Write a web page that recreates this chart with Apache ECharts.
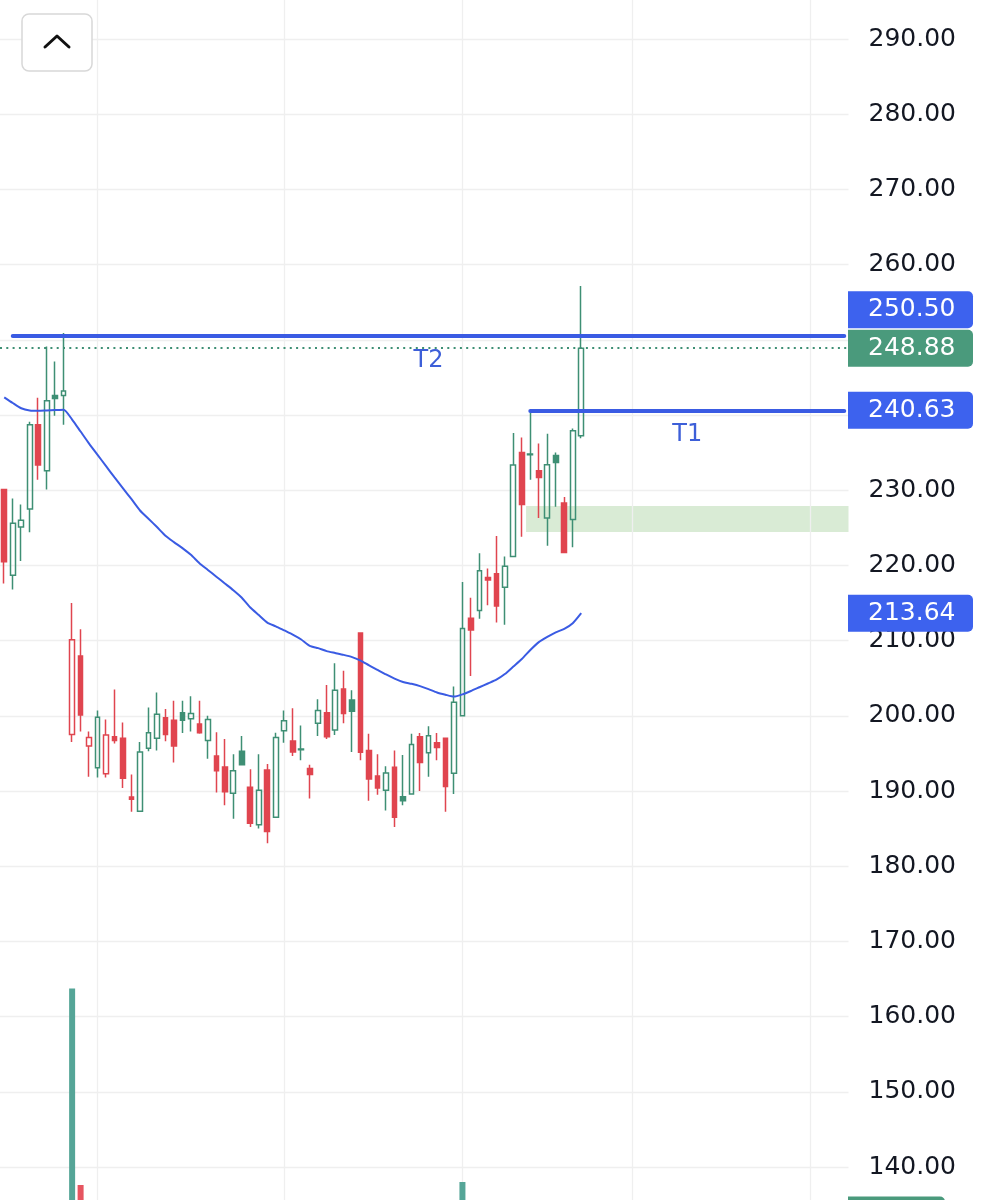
<!DOCTYPE html>
<html>
<head>
<meta charset="utf-8">
<script src="https://cdn.jsdelivr.net/npm/echarts@6/dist/echarts.min.js"></script>
<style>
html,body{margin:0;padding:0;background:#ffffff;}
#chart{width:983px;height:1200px;}
</style>
</head>
<body>
<div id="chart"></div>
<script>
// ---------------- data ----------------
const openP = [230.1,218.7,225.1,227.5,238.7,232.6,242.6,242.6,197.5,207.95,
  196.0,193.1,192.3,197.2,197.0,189.2,187.3,195.7,197.0,199.75,
  199.4,200.4,199.6,198.9,196.7,194.65,193.2,189.7,195.3,190.5,
  185.5,192.8,186.5,198.0,196.65,195.5,193.0,199.0,200.4,198.1,
  203.55,202.1,211.0,195.4,192.0,190.1,193.15,189.25,189.6,197.2,
  195.1,196.4,197.0,192.35,200.0,212.97,214.0,218.4,218.9,217.1,
  221.2,235.0,234.7,232.6,226.3,234.6,228.3,226.1,237.25];
const closeP = [220.5,225.6,226.0,238.7,233.35,241.9,242.2,243.2,210.1,200.1,
  197.1,199.8,197.45,196.7,191.7,188.9,195.2,197.75,200.2,197.5,
  196.0,199.4,200.3,197.75,199.5,192.7,189.9,192.7,193.5,185.7,
  190.1,184.6,197.1,199.35,195.2,195.6,192.2,200.7,197.2,203.4,
  200.3,200.6,195.15,191.6,190.4,192.4,186.5,188.7,196.2,193.8,
  197.35,195.8,190.6,201.8,211.6,211.4,219.3,218.05,214.6,219.9,
  233.35,228.1,234.8,231.7,233.4,233.7,221.7,237.9,248.88];
const lowP = [217.6,216.8,220.6,224.4,231.4,230.1,239.9,238.7,196.5,197.9,
  191.9,191.8,191.8,196.3,190.4,187.25,187.2,195.3,195.4,196.6,
  193.8,197.7,197.9,197.6,194.3,189.8,188.1,186.3,193.5,185.2,
  185.0,183.05,186.5,196.4,194.65,194.1,189.0,197.3,196.9,197.45,
  199.0,195.2,194.1,188.7,189.5,187.4,185.2,188.1,189.6,190.0,
  191.9,194.1,187.25,189.6,200.0,205.3,212.9,214.7,212.4,212.1,
  221.2,223.8,231.4,226.3,222.6,227.8,221.7,222.4,236.9];
const highP = [230.2,228.9,228.1,239.1,242.3,249.1,247.1,250.9,215.0,211.5,
  197.9,200.7,199.5,203.5,199.1,192.2,196.5,201.1,203.1,200.9,
  202.0,202.0,202.6,202.0,200.0,197.8,196.9,194.9,197.3,192.9,
  194.9,193.6,197.75,200.7,201.0,198.7,193.5,202.2,204.1,207.0,
  206.0,203.4,211.0,197.6,194.9,193.3,195.4,194.8,197.6,197.7,
  198.6,197.7,197.0,203.9,217.8,215.7,221.6,219.6,223.9,221.2,
  237.6,237.0,240.63,236.2,237.5,235.0,229.1,238.2,257.15];
const maP = [242.35,241.6,240.9,240.6,240.55,240.6,240.65,240.7,239.4,237.8,
  236.2,234.7,233.2,231.7,230.25,228.8,227.3,226.2,225.1,223.95,
  223.1,222.3,221.4,220.3,219.4,218.5,217.6,216.7,215.7,214.4,
  213.4,212.4,211.9,211.35,210.8,210.15,209.3,209.0,208.6,208.35,
  208.1,207.8,207.35,206.7,206.1,205.5,204.95,204.5,204.25,203.95,
  203.55,203.1,202.8,202.55,202.85,203.3,203.8,204.3,204.8,205.55,
  206.55,207.55,208.75,209.8,210.5,211.1,211.55,212.3,213.64];
const volumeM = [12.5,10.8,9.6,13.2,11.4,14.8,10.2,12.9,34.1,21.0,
  13.6,11.2,9.8,8.7,10.5,9.9,12.1,9.4,8.8,8.1,
  9.2,7.9,7.5,7.2,8.4,9.6,10.3,9.1,7.7,11.8,
  10.4,12.6,13.9,9.5,8.6,7.4,8.3,9.7,10.1,11.3,
  9.8,8.9,18.7,13.4,10.6,9.2,12.4,10.8,11.5,10.2,
  9.4,8.6,11.9,14.6,21.2,16.3,15.1,11.7,13.8,12.2,
  17.6,15.4,13.1,11.8,12.7,10.9,14.2,15.8,19.0];
const slotCount = 100;                       // trading-day slots on the time axis (incl. empty right margin)
const categories = Array.from({length: slotCount}, (_, i) => String(i));
const monthStartIdx = [11, 33, 54, 74, 95];  // vertical grid lines
const priceTicks = {min: 130, max: 300, step: 10};
const t2Level = 250.50, t2StartIdx = 1;
const t1Level = 240.63, t1StartIdx = 62;
const zoneTop = 227.9, zoneBottom = 224.45, zoneStart = 61.5;
const levelLabels = ['T2', 'T1'];

// ---------------- style ----------------
const GREEN = '#3e8f74';
const RED = '#e0454f';
const BLUE = '#3a5be3';
const TAG_BLUE = '#3d62ee';
const TAG_GREEN = '#4a9a7c';
const VOL_GREEN = '#55a597';
const VOL_RED = '#e65560';
const GRID_COL = '#efefef';
const FONT = '"DejaVu Sans", sans-serif';

const lastIdx = closeP.length - 1;
const candleData = openP.map((o, i) => {
  const c = closeP[i];
  const prev = i > 0 ? closeP[i - 1] : o;
  const col = c >= prev ? GREEN : RED;
  const fill = c > o ? 'rgba(255,255,255,0)' : col;
  return {value: [o, c, lowP[i], highP[i]],
    itemStyle: {color: fill, color0: fill, borderColor: col, borderColor0: col}};
});
const volData = volumeM.map((v, i) => ({value: v,
  itemStyle: {color: closeP[i] >= openP[i] ? VOL_GREEN : VOL_RED}}));

const chart = echarts.init(document.getElementById('chart'), null, {renderer: 'canvas'});

const gridTop = -36.2, gridHeight = 1278.4, plotWidth = 848.5;
const TAG_H = 37, TAG_GAP = 1.5, TAG_X = 848, TAG_W = 125, TEXT_X = 868;

// price-scale mapping used to place tags and hide covered tick labels
const pxPerUnit = gridHeight / (priceTicks.max - priceTicks.min);
const priceToY = v => gridTop + (priceTicks.max - v) * pxPerUnit;

const tags = [
  {v: closeP[lastIdx], fill: TAG_GREEN},
  {v: t2Level, fill: TAG_BLUE},
  {v: t1Level, fill: TAG_BLUE},
  {v: maP[lastIdx], fill: TAG_BLUE}
];
const placed = [];
tags.forEach(t => {
  let y = priceToY(t.v);
  placed.forEach(p => {
    if (Math.abs(y - p.y) < TAG_H + TAG_GAP) {
      y = y < p.y ? p.y - TAG_H - TAG_GAP : p.y + TAG_H + TAG_GAP;
    }
  });
  t.y = y;
  placed.push(t);
});
const labelHidden = v => tags.some(t => Math.abs(priceToY(v) - t.y) < TAG_H / 2 + 3);

const option = {
  animation: false,
  backgroundColor: '#ffffff',
  grid: [
    {left: 0, top: gridTop, width: plotWidth, height: gridHeight, outerBoundsMode: 'none', containLabel: false},
    {left: 0, top: 0, width: plotWidth, height: 1500, outerBoundsMode: 'none', containLabel: false}
  ],
  xAxis: [
    {type: 'category', gridIndex: 0, data: categories, boundaryGap: true,
     axisLine: {show: false}, axisTick: {show: false}, axisLabel: {show: false}, splitLine: {show: false}},
    {type: 'value', gridIndex: 0, min: -0.5, max: slotCount - 0.5, show: false},
    {type: 'category', gridIndex: 1, data: categories, boundaryGap: true, show: false}
  ],
  yAxis: [
    {type: 'value', gridIndex: 0, position: 'right', min: priceTicks.min, max: priceTicks.max,
     interval: priceTicks.step,
     axisLine: {show: false}, axisTick: {show: false},
     axisLabel: {margin: 20, fontSize: 25, fontFamily: FONT, color: '#131722',
       formatter: v => labelHidden(v) ? '' : v.toFixed(2)},
     splitLine: {lineStyle: {color: GRID_COL, width: 1.3}}},
    {type: 'value', gridIndex: 1, min: 0, max: 100, show: false, splitLine: {show: false}}
  ],
  series: [
    { // vertical month grid lines
      type: 'line', xAxisIndex: 0, yAxisIndex: 0, data: [], z: 1, silent: true,
      markLine: {silent: true, z: 1, symbol: ['none', 'none'], animation: false,
        label: {show: false},
        lineStyle: {color: GRID_COL, width: 1.3, type: 'solid'},
        data: monthStartIdx.map(i => ({xAxis: i}))}
    },
    { // support zone
      type: 'line', xAxisIndex: 1, yAxisIndex: 0, data: [], z: 1, silent: true,
      markArea: {silent: true, z: 1, itemStyle: {color: '#d9ebd5'},
        data: [[{xAxis: zoneStart, yAxis: zoneTop}, {xAxis: slotCount - 0.5, yAxis: zoneBottom}]]}
    },
    {
      type: 'bar', xAxisIndex: 2, yAxisIndex: 1, data: volData, barWidth: 6, z: 2, silent: true
    },
    {
      type: 'candlestick', xAxisIndex: 0, yAxisIndex: 0, data: candleData,
      barWidth: 5.2, z: 3, silent: true,
      itemStyle: {borderWidth: 1.5},
      markLine: {silent: true, z: 4, symbol: ['none', 'none'], animation: false,
        label: {show: false},
        lineStyle: {color: GREEN, width: 2, type: [2, 4.3]},
        data: [{yAxis: closeP[lastIdx]}]}
    },
    {
      type: 'line', xAxisIndex: 0, yAxisIndex: 0, data: maP, z: 4, silent: true,
      smooth: 0.2, symbol: 'none', showSymbol: false,
      lineStyle: {color: BLUE, width: 2}
    },
    { // target levels
      type: 'line', xAxisIndex: 0, yAxisIndex: 0, data: [], z: 5, silent: true,
      markLine: {silent: true, z: 5, symbol: ['none', 'none'], animation: false,
        lineStyle: {color: BLUE, width: 4, type: 'solid', cap: 'round'},
        label: {show: true, position: 'insideMiddleBottom', distance: 13,
          color: '#3d5fd8', fontSize: 24, fontFamily: FONT},
        data: [
          [{coord: [categories[t2StartIdx], t2Level], label: {formatter: levelLabels[0]}},
           {coord: [categories[slotCount - 1], t2Level]}],
          [{coord: [categories[t1StartIdx], t1Level], label: {formatter: levelLabels[1]}},
           {coord: [categories[slotCount - 1], t1Level]}]
        ]}
    }
  ]
};
chart.setOption(option);

// ---------- right-hand price tags ----------
tags.forEach(t => { t.y = chart.convertToPixel({yAxisIndex: 0}, t.v) + (t.y - priceToY(t.v)); });
const volY = chart.convertToPixel({yAxisIndex: 1}, volumeM[lastIdx]);

const graphics = [];
tags.forEach(t => {
  graphics.push({type: 'rect', z: 100, shape: {x: TAG_X, y: t.y - TAG_H / 2, width: TAG_W, height: TAG_H, r: [0, 5, 5, 0]},
    style: {fill: t.fill}});
  graphics.push({type: 'text', z: 101, x: TEXT_X, y: t.y,
    style: {text: t.v.toFixed(2), fill: '#ffffff', font: '25px ' + FONT, align: 'left', verticalAlign: 'middle'}});
});
graphics.push({type: 'rect', z: 100, shape: {x: TAG_X, y: volY - TAG_H / 2, width: 97, height: TAG_H, r: [0, 5, 5, 0]},
  style: {fill: TAG_GREEN}});
graphics.push({type: 'text', z: 101, x: TEXT_X, y: volY,
  style: {text: volumeM[lastIdx].toFixed(2) + 'M', fill: '#ffffff', font: '25px ' + FONT, align: 'left', verticalAlign: 'middle'}});
// collapse button (top-left)
graphics.push({type: 'rect', z: 100, shape: {x: 22, y: 14, width: 70, height: 57, r: 7},
  style: {fill: '#ffffff', stroke: '#d8d8d8', lineWidth: 1.5}});
graphics.push({type: 'polyline', z: 101, shape: {points: [[45, 47], [57, 36], [69, 47]]},
  style: {stroke: '#111111', lineWidth: 3, fill: null, lineCap: 'round', lineJoin: 'round'}});

chart.setOption({graphic: graphics});
</script>
</body>
</html>
